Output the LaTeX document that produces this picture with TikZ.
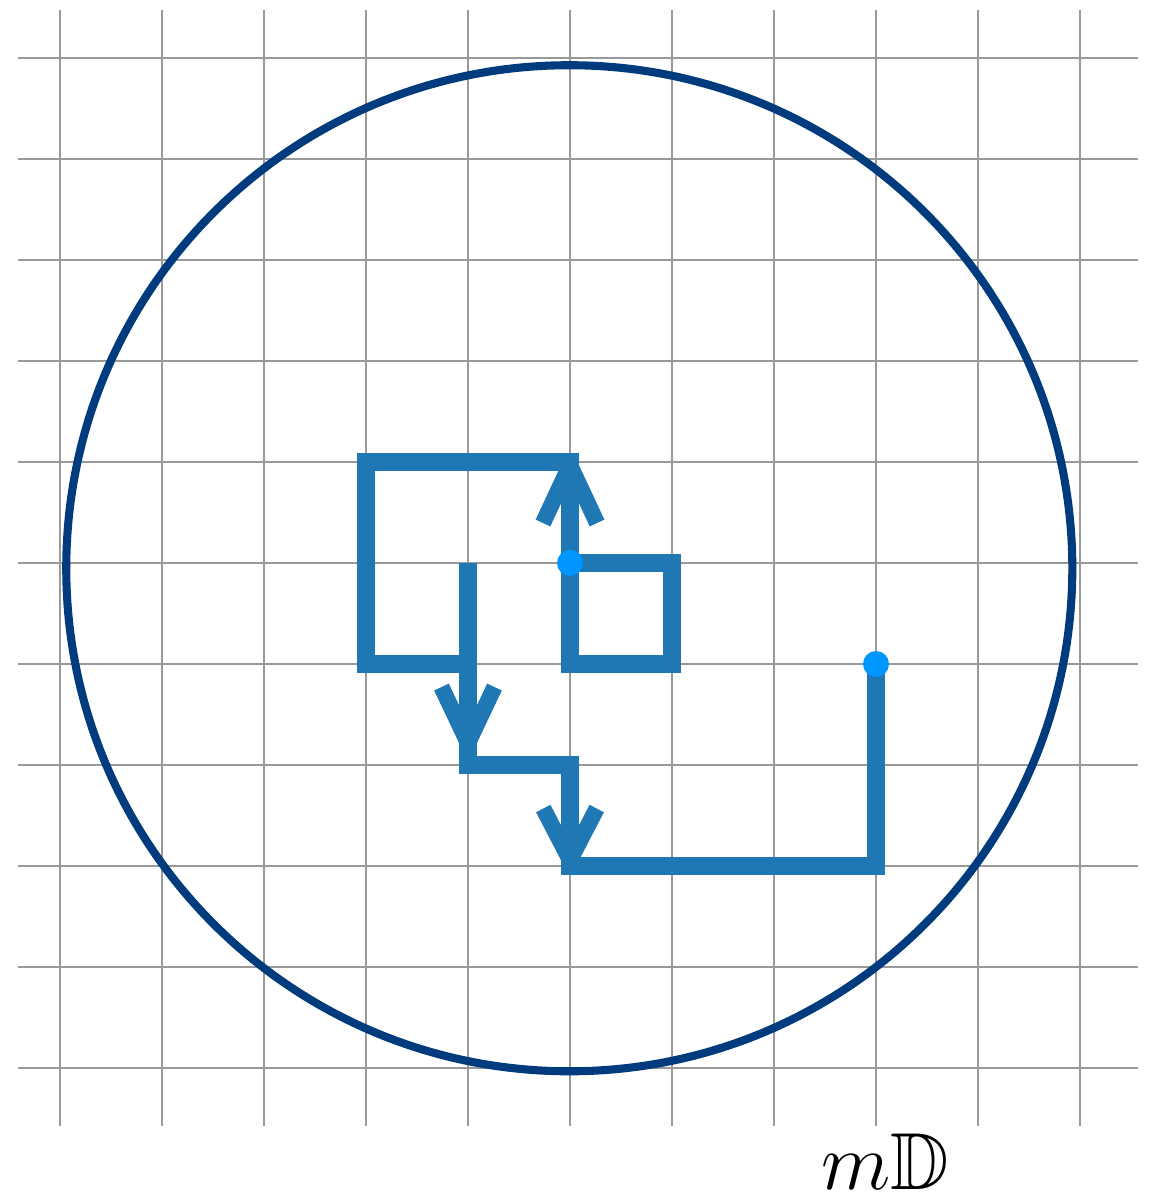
\documentclass[tikz,border=0pt]{standalone}
\usepackage{graphicx}
\usepackage{amssymb}
\definecolor{gridgray}{RGB}{153,153,153}
\definecolor{walkblue}{RGB}{31,119,180}
\definecolor{dotblue}{RGB}{0,150,255}
\definecolor{circnavy}{RGB}{0,60,125}
\begin{document}
\begin{tikzpicture}[x=2.04cm,y=2.02cm,
  gridline/.style={draw=gridgray,line width=1.4pt},
  circ/.style={draw=circnavy,line width=4.6pt},
  walk/.style={draw=walkblue,line width=10.2pt,line join=miter,line cap=butt},
  wing/.style={draw=walkblue,line width=9.2pt,line join=round,line cap=butt},
  dot/.style={circle,fill=dotblue,draw=none,minimum size=0.52cm,inner sep=0pt},
  lbl/.style={inner sep=0pt,anchor=base,font=\Huge}]
\useasboundingbox (-5.588,5.574) rectangle (5.775,-6.257);
% grid
\foreach \i in {-5,...,5} \draw[gridline] (\i,5.475) -- (\i,-5.574);
\foreach \j in {-5,...,5} \draw[gridline] (-5.412,\j) -- (5.569,\j);
% disc boundary
\draw[circ] (-0.007,-0.052) circle[radius=10.06cm];
% walks
\coordinate (s1) at (3,-1);
\coordinate (s2) at (0,0);
\draw[walk] (s1) -- (3,-3) -- (0,-3) -- (0,-2) -- (-1,-2) -- (-1,0);
\draw[walk] (s2) -- (1,0) -- (1,-1) -- (0,-1) -- (0,1) -- (-2,1) -- (-2,-1) -- (-1,-1);
% arrow chevrons
\draw[wing] (-0.265,0.396) -- (0,0.97) -- (0.265,0.396);
\draw[wing] (-1.26,-1.228) -- (-1,-1.782) -- (-0.74,-1.228);
\draw[wing] (-0.262,-2.431) -- (0,-2.941) -- (0.262,-2.431);
% dots
\node[dot] (d1) at (s1) {};
\node[dot] (d2) at (s2) {};
% label
\node[lbl] (lab) at (3.088,-6.198) {\scalebox{1.85}{$m\mathbb{D}$}};
\end{tikzpicture}
\end{document}
